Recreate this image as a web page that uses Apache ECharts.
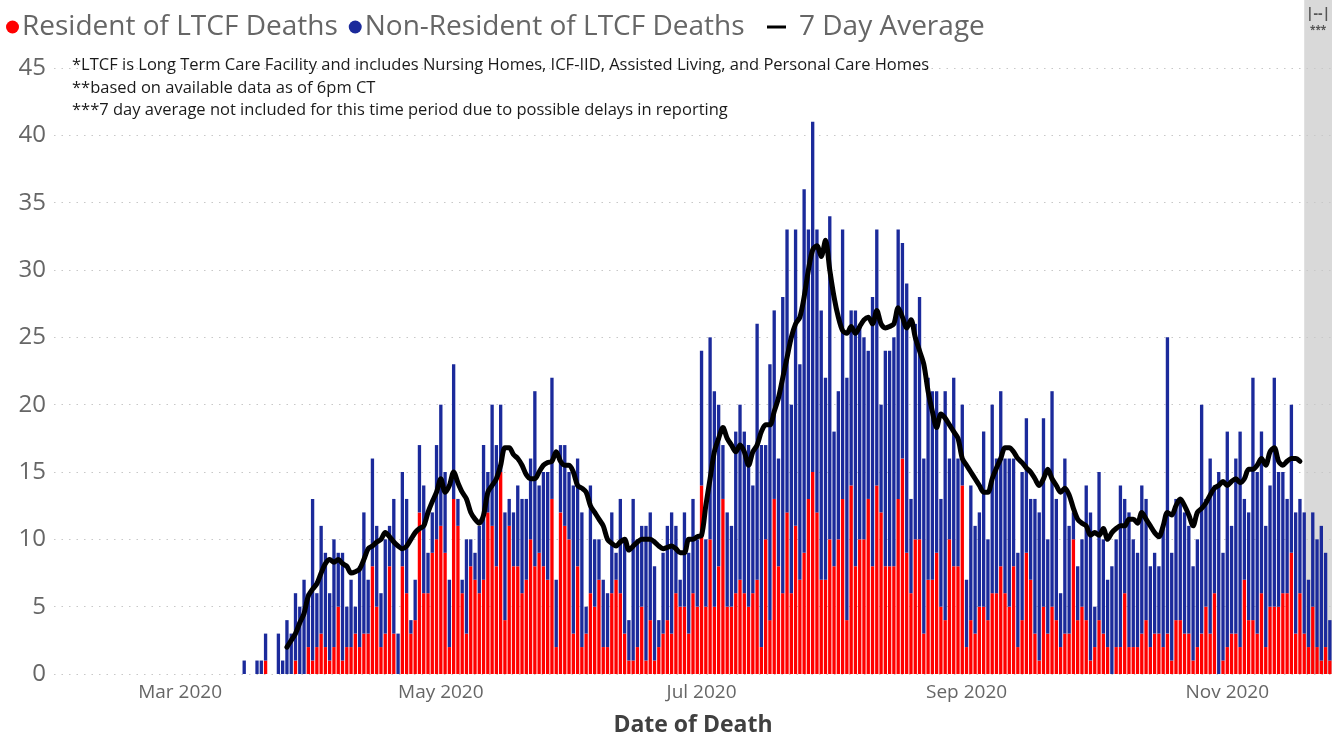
<!DOCTYPE html>
<html><head><meta charset="utf-8">
<script src="https://cdn.jsdelivr.net/npm/echarts/dist/echarts.min.js"></script>
<style>html,body{margin:0;padding:0;background:#fff}#c{width:1332px;height:742px}</style>
</head><body><div id="c"></div>
<script>
// ---- data ----
const axisStart = '2020-02-01';
const axisEnd = '2020-11-25';
const firstBarDate = '2020-03-16';
const avgStartDate = '2020-03-26';
const noAvgFromDate = '2020-11-19';
const monthTickLabels = ['Mar 2020', 'May 2020', 'Jul 2020', 'Sep 2020', 'Nov 2020'];
const seriesNames = ['Resident of LTCF Deaths', 'Non-Resident of LTCF Deaths', '7 Day Average'];
const notes = [
  '*LTCF is Long Term Care Facility and includes Nursing Homes, ICF-IID, Assisted Living, and Personal Care Homes',
  '**based on available data as of 6pm CT',
  '***7 day average not included for this time period due to possible delays in reporting'
];
const bandLabels = ['|--|', '***'];

// daily deaths from 2020-03-16
const residentDeaths = [
  0,0,0,0,0,1,0,0,0,0,
  0,0,1,0,0,2,1,2,3,2,
  1,2,5,1,2,2,3,2,3,3,
  8,5,2,3,8,3,0,8,6,3,
  4,12,6,6,9,10,11,9,2,13,
  11,6,3,8,7,6,7,12,11,8,
  15,4,11,8,8,6,7,10,8,9,
  8,7,13,2,12,11,10,3,8,2,
  3,6,5,7,2,2,6,7,6,3,
  1,1,2,5,1,4,1,2,3,4,
  3,6,5,5,3,6,5,14,5,10,
  5,8,13,5,5,6,7,6,5,6,
  7,2,10,4,13,8,6,12,6,11,
  7,9,13,15,12,7,7,10,8,10,
  13,4,14,8,10,10,13,8,14,12,
  8,8,8,13,16,9,6,10,10,3,
  7,7,9,5,4,10,8,8,14,2,
  4,3,5,5,4,6,6,8,6,5,
  8,2,4,9,7,3,1,5,3,5,
  4,2,3,3,10,4,5,4,1,2,
  4,3,2,0,2,2,6,2,2,2,
  3,4,2,3,3,2,3,1,4,4,
  3,3,1,2,3,5,3,6,0,1,
  2,3,3,2,7,4,4,3,6,2,
  5,5,5,6,6,9,3,6,3,2,
  5,2,1,2,1
];
const nonResidentDeaths = [
  1,0,0,1,1,2,0,0,3,1,
  4,3,5,5,7,4,12,4,8,7,
  5,8,4,8,3,5,2,6,9,4,
  8,6,4,7,3,10,3,7,7,1,
  3,5,8,3,3,7,9,6,5,10,
  2,1,7,2,2,5,10,3,9,9,
  5,8,2,4,6,7,6,6,13,5,
  7,8,9,5,5,6,5,11,8,10,
  2,8,5,3,5,4,6,2,7,7,
  3,12,8,6,10,8,7,2,6,7,
  9,5,2,7,6,7,5,10,5,15,
  16,12,4,7,6,12,13,12,12,8,
  19,15,7,19,14,8,22,21,14,22,
  16,27,20,26,21,20,15,24,10,11,
  20,18,13,19,16,15,11,20,19,8,
  16,16,17,20,16,20,7,16,18,13,
  15,14,12,8,17,6,14,8,6,5,
  10,8,7,13,6,14,10,13,10,11,
  8,7,11,10,6,10,11,14,7,16,
  9,4,13,8,2,4,5,10,11,3,
  11,7,5,8,8,12,7,10,8,7,
  11,9,6,6,5,9,22,8,9,9,
  9,8,7,8,17,8,13,8,15,8,
  16,8,13,16,6,8,18,12,12,9,
  9,17,10,9,7,11,9,7,9,5,
  7,8,10,7,3
];
// 7 day average from 2020-03-26
const sevenDayAverage = [
  2,2.5,3,3.8,4.5,5.8,6.3,6.7,7.5,8.2,
  8.5,8.3,8.5,8.2,8,7.5,7.6,7.8,8.5,9.3,
  9.5,9.8,10,10.5,10.2,9.8,9.5,9.3,9.5,10,
  10.5,10.8,11,12,12.8,13.5,14.5,13.5,14,15,
  14.2,13.5,13,12,11.5,11.2,11.8,13.5,14,14.5,
  15.5,16.8,16.8,16.3,16,15.5,14.8,14.5,14.5,15,
  15.5,15.7,15.8,16.5,15.8,15.5,15.5,15,14,13.8,
  13.5,12.5,12,11.5,11,10,9.7,9.5,9.8,10,
  9.2,9.5,9.8,10,10,10,9.8,9.5,9.3,9.4,
  9.5,9.3,9,9,10,10,10.2,10.3,12.5,14.5,
  16.5,17.5,18.3,17.5,17,16.5,17,16.5,15.5,16.5,
  17,18,18.5,18.5,19.5,20.5,22,23.5,25,26,
  26.5,28,30,31.5,31.8,31,32.2,30,28,26.5,
  25.5,25.3,25.8,25.3,25.8,26.3,26.5,26,27,26,
  25.7,25.8,26,27.2,26.5,25.7,26.3,25,24,23,
  21,19.5,18.3,19.3,19,18.5,18,17.5,16,15.5,
  15,14.5,14,13.5,13.5,14.5,15.3,16,16.8,16.8,
  16.5,16,15.7,15.3,15,14.5,14,14.5,15.2,14.5,
  14,13.5,13.8,13.3,12.3,11.5,11.2,11,10.3,10.5,
  10.3,10.8,10,10.5,10.8,11,11,11.5,11.5,11.2,
  12,11.5,11,10.5,10.2,11,12,11.8,12.5,13,
  12.5,11.8,11,12,12.3,12.7,13.3,13.8,14,14.3,
  14,14.3,14.5,14.2,14.5,15.2,15.2,15.5,16,15.5,
  16.5,16.8,15.8,15.5,15.8,16,16,15.8
];

// ---- build categories ----
const DAY = 86400000;
const dates = [];
for (let t = Date.parse(axisStart + 'T00:00:00Z'); t <= Date.parse(axisEnd + 'T00:00:00Z'); t += DAY) {
  dates.push(new Date(t).toISOString().slice(0, 10));
}
const MONTHS = ['Jan','Feb','Mar','Apr','May','Jun','Jul','Aug','Sep','Oct','Nov','Dec'];
function monthLabel(d) { return MONTHS[+d.slice(5, 7) - 1] + ' ' + d.slice(0, 4); }
function align(arr, startDate) {
  const off = dates.indexOf(startDate);
  return dates.map((d, i) => (i >= off && i - off < arr.length) ? arr[i - off] : null);
}
const resData = align(residentDeaths, firstBarDate);
const nonResData = align(nonResidentDeaths, firstBarDate);
const avgData = align(sevenDayAverage, avgStartDate);

const FONT = '"Segoe UI", "Open Sans", "Noto Sans", sans-serif';
const chart = echarts.init(document.getElementById('c'), null, { renderer: 'canvas' });
const legendText = { fontSize: 28, color: '#666666', fontFamily: FONT };

const option = {
  animation: false,
  textStyle: { fontFamily: FONT },
  legend: [
    {
      left: 1, top: 8,
      itemWidth: 13, itemHeight: 13, itemGap: 11,
      textStyle: Object.assign({ padding: [0, 0, 0, -2] }, legendText),
      data: [
        { name: seriesNames[0], icon: 'circle' },
        { name: seriesNames[1], icon: 'circle' }
      ]
    },
    {
      left: 762, top: 8,
      itemWidth: 19, itemHeight: 3,
      textStyle: Object.assign({ padding: [0, 0, 0, 8] }, legendText),
      data: [{ name: seriesNames[2], icon: 'rect' }]
    }
  ],
  grid: { left: 54, width: 1279, top: 68, bottom: 62, containLabel: false },
  xAxis: {
    type: 'category',
    data: dates,
    boundaryGap: true,
    axisLine: { show: false },
    axisTick: { show: false },
    axisLabel: {
      interval: (i, v) => v.slice(8) === '01' && monthTickLabels.includes(monthLabel(v)),
      formatter: v => monthLabel(v),
      color: '#666666', fontSize: 19, margin: 9, fontFamily: FONT
    },
    name: 'Date of Death',
    nameLocation: 'middle',
    nameGap: 40,
    nameTextStyle: { fontSize: 23, fontWeight: 'bold', color: '#404040', fontFamily: FONT }
  },
  yAxis: {
    type: 'value', min: 0, max: 45, interval: 5,
    axisLine: { show: false }, axisTick: { show: false },
    axisLabel: { color: '#666666', fontSize: 24, margin: 8, fontFamily: FONT },
    splitLine: { show: true, lineStyle: { color: '#c8c8c8', width: 1.2, type: [1.5, 6] } }
  },
  series: [
    {
      name: seriesNames[0], type: 'bar', stack: 'deaths', data: resData,
      barCategoryGap: '22%', itemStyle: { color: '#FF0000' }, z: 2
    },
    {
      name: seriesNames[1], type: 'bar', stack: 'deaths', data: nonResData,
      barCategoryGap: '22%', itemStyle: { color: '#1B2A9B' }, z: 2
    },
    {
      name: seriesNames[2], type: 'line', data: avgData,
      showSymbol: false, symbol: 'none', smooth: 0.3, connectNulls: false,
      lineStyle: { color: '#000000', width: 5, cap: 'round', join: 'round' },
      itemStyle: { color: '#000000' }, z: 5
    }
  ]
};
chart.setOption(option);

// shaded "no average" band, positioned through the axes
const bandX = chart.convertToPixel({ xAxisIndex: 0 }, noAvgFromDate);
const bandBottom = chart.convertToPixel({ yAxisIndex: 0 }, 0);
const W = chart.getWidth();
const bandMid = (bandX + W) / 2;
chart.setOption({
  graphic: [
    { type: 'rect', z: -10, silent: true,
      shape: { x: bandX, y: 0, width: W - bandX, height: bandBottom },
      style: { fill: '#d9d9d9' } },
    { type: 'text', z: 10, silent: true, x: bandMid, y: 7,
      style: { text: bandLabels[0], fill: '#555', font: 'bold 14px ' + FONT, textAlign: 'center' } },
    { type: 'text', z: 10, silent: true, x: bandMid, y: 25,
      style: { text: bandLabels[1], fill: '#555', font: 'bold 10px ' + FONT, textAlign: 'center' } },
    ...notes.map((t, i) => ({
      type: 'text', z: 10, silent: true, left: 72, top: 57 + i * 22.5,
      style: { text: t, fill: '#1a1a1a', font: '16.5px ' + FONT }
    }))
  ]
});
</script>
</body></html>
